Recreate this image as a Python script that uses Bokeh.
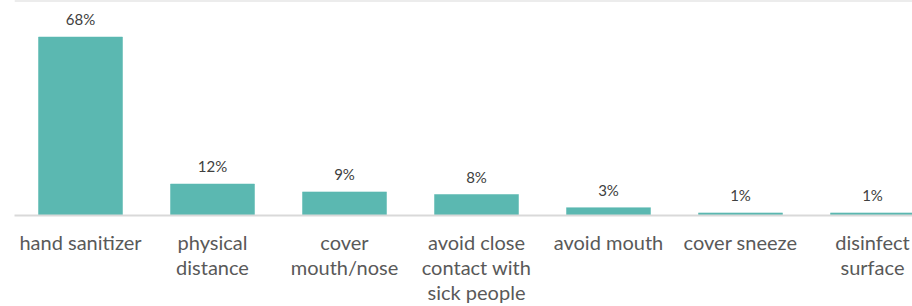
from bokeh.plotting import figure
from bokeh.models import ColumnDataSource, Range1d, FixedTicker, Span
from bokeh.core.properties import value
from bokeh.embed import file_html
from bokeh.resources import INLINE

categories = ["hand sanitizer", "physical\ndistance", "cover\nmouth/nose",
              "avoid close\ncontact with\nsick people", "avoid mouth",
              "cover sneeze", "disinfect\nsurface"]
values = [68, 12, 9, 8, 3, 1, 1]
value_labels = ["68%", "12%", "9%", "8%", "3%", "1%", "1%"]

xs = list(range(len(categories)))
src = ColumnDataSource(dict(x=xs, top=values, lab=value_labels))

W, H = 912, 306
px_per_cat = 132.0
left_border = 14
frame_w = W - left_border
x_end = -0.5 + frame_w / px_per_cat

frame_h = 215
px_per_unit = 178.5 / 68.0
y_end = frame_h / px_per_unit

p = figure(width=W, height=H, output_backend="svg", toolbar_location=None,
           x_range=Range1d(-0.5, x_end), y_range=Range1d(0, y_end),
           min_border_left=left_border, min_border_right=0,
           min_border_top=0, min_border_bottom=H - frame_h)
p.outline_line_color = None
p.background_fill_color = "white"
p.border_fill_color = "white"
p.xgrid.visible = False
p.ygrid.visible = False
p.yaxis.visible = False

p.vbar(x="x", top="top", width=84 / px_per_cat, source=src,
       fill_color="#5BB8B1", line_color="#5BB8B1", line_width=0.5)

p.text(x="x", y="top", text="lab", source=src, text_align="center",
       text_baseline="bottom", y_offset=-9, text_font=value("Lato"),
       text_font_size="15px", text_color="#404040")

top_line = Span(location=y_end, dimension="width", line_color="#D9D9D9",
                line_width=2)
p.add_layout(top_line)

ax = p.xaxis[0]
ax.ticker = FixedTicker(ticks=xs)
ax.major_label_overrides = {i: c for i, c in enumerate(categories)}
ax.axis_line_color = "#D9D9D9"
ax.axis_line_width = 2
ax.major_tick_line_color = None
ax.minor_tick_line_color = None
ax.major_tick_out = 0
ax.major_tick_in = 0
ax.major_label_standoff = 14
ax.major_label_text_font = "Lato"
ax.major_label_text_font_size = "20px"
ax.major_label_text_color = "#595959"
ax.major_label_text_line_height = 1.05

open("out.html", "w").write(file_html(p, INLINE))
